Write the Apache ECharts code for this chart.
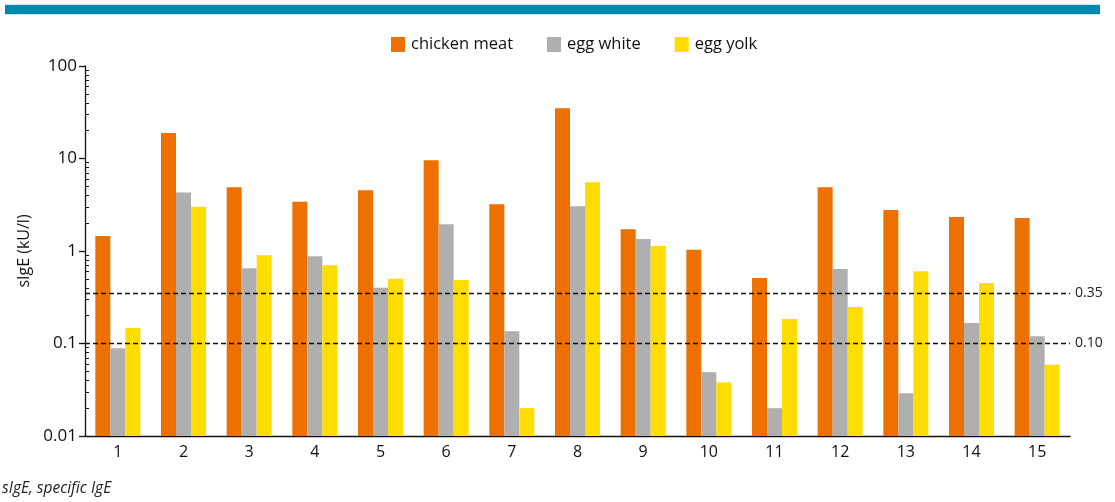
<!DOCTYPE html>
<html>
<head>
<meta charset="utf-8">
<script src="https://cdn.jsdelivr.net/npm/echarts@6/dist/echarts.min.js"></script>
<style>
  html, body { margin: 0; padding: 0; background: #fff; }
  #chart { width: 1115px; height: 502px; }
</style>
</head>
<body>
<div id="chart"></div>
<script>
// patients 1..15
const categories = ['1', '2', '3', '4', '5', '6', '7', '8', '9', '10', '11', '12', '13', '14', '15'];
const chickenMeat = [1.45, 18.9, 4.9, 3.4, 4.55, 9.6, 3.2, 35, 1.72, 1.03, 0.51, 4.9, 2.77, 2.33, 2.27];
const eggWhite = [0.089, 4.3, 0.65, 0.88, 0.4, 1.95, 0.136, 3.05, 1.35, 0.049, 0.02, 0.64, 0.029, 0.167, 0.12];
const eggYolk = [0.147, 3.0, 0.9, 0.7, 0.5, 0.485, 0.02, 5.55, 1.13, 0.038, 0.184, 0.248, 0.605, 0.45, 0.059];
const yTicks = [0.01, 0.1, 1, 10, 100];
const cutoffs = [0.35, 0.10];

// minor ticks 2..9 in every decade
const minorTicks = [];
for (let d = 0; d < yTicks.length - 1; d++) {
  for (let k = 2; k <= 9; k++) minorTicks.push(+(yTicks[d] * k).toPrecision(3));
}

const font = 'Open Sans';
const chart = echarts.init(document.getElementById('chart'));

const barSeries = (name, data, color) => ({
  name: name,
  type: 'bar',
  data: data,
  barWidth: 15,
  barGap: '0%',
  itemStyle: { color: color },
  animation: false
});

const series = [
  barSeries('chicken meat', chickenMeat, '#ED7000'),
  barSeries('egg white', eggWhite, '#AEAFAE'),
  barSeries('egg yolk', eggYolk, '#FFDD00')
];
series[0].markLine = {
  silent: true,
  symbol: 'none',
  lineStyle: { color: '#111', type: [5, 3], width: 1.3 },
  label: {
    position: 'end',
    distance: 5,
    color: '#222',
    fontFamily: font,
    fontSize: 14,
    formatter: p => p.value.toFixed(2)
  },
  data: cutoffs.map(v => ({ yAxis: v }))
};

chart.setOption({
  animation: false,
  textStyle: { fontFamily: font },
  graphic: [
    { type: 'rect', shape: { x: 5, y: 4, width: 1095, height: 11 }, style: { fill: '#cfe6ee' } },
    { type: 'rect', shape: { x: 5, y: 5, width: 1095, height: 9 }, style: { fill: '#0089AE' } },
    {
      type: 'text', left: 2, top: 481,
      style: { text: 'sIgE, specific IgE', font: 'italic 15.5px "Open Sans"', fill: '#222' }
    }
  ],
  legend: {
    top: 31,
    left: 386,
    itemWidth: 14,
    itemHeight: 15,
    itemGap: 34,
    icon: 'rect',
    textStyle: { fontSize: 16.5, color: '#111', fontFamily: font, padding: [0, 0, 0, 1] },
    data: ['chicken meat', 'egg white', 'egg yolk']
  },
  grid: { left: 85, right: 45, top: 66, bottom: 66 },
  xAxis: {
    type: 'category',
    data: categories,
    axisLine: { lineStyle: { color: '#111', width: 1.3 } },
    axisTick: { length: 5, lineStyle: { color: '#111', width: 1.3 } },
    axisLabel: { color: '#111', fontSize: 16, margin: 8 }
  },
  yAxis: [
    {
      type: 'log',
      logBase: 10,
      min: 0.01,
      max: 100,
      startValue: 0.01,
      name: 'sIgE (kU/l)',
      nameLocation: 'middle',
      nameGap: 44,
      nameRotate: 90,
      nameTextStyle: { fontSize: 16, color: '#111' },
      axisLine: { show: true, lineStyle: { color: '#111', width: 1.3 } },
      axisTick: { show: true, length: 6, lineStyle: { color: '#111', width: 1.3 } },
      axisLabel: { color: '#111', fontSize: 17, margin: 8, formatter: v => String(+v.toPrecision(3)) },
      splitLine: { show: false }
    },
    {
      type: 'log',
      logBase: 10,
      min: 0.01,
      max: 100,
      position: 'left',
      axisLine: { show: false },
      axisLabel: { show: false },
      splitLine: { show: false },
      axisTick: { show: true, inside: true, length: 4, customValues: minorTicks, lineStyle: { color: '#111', width: 1 } }
    }
  ],
  series: series
});
</script>
</body>
</html>
